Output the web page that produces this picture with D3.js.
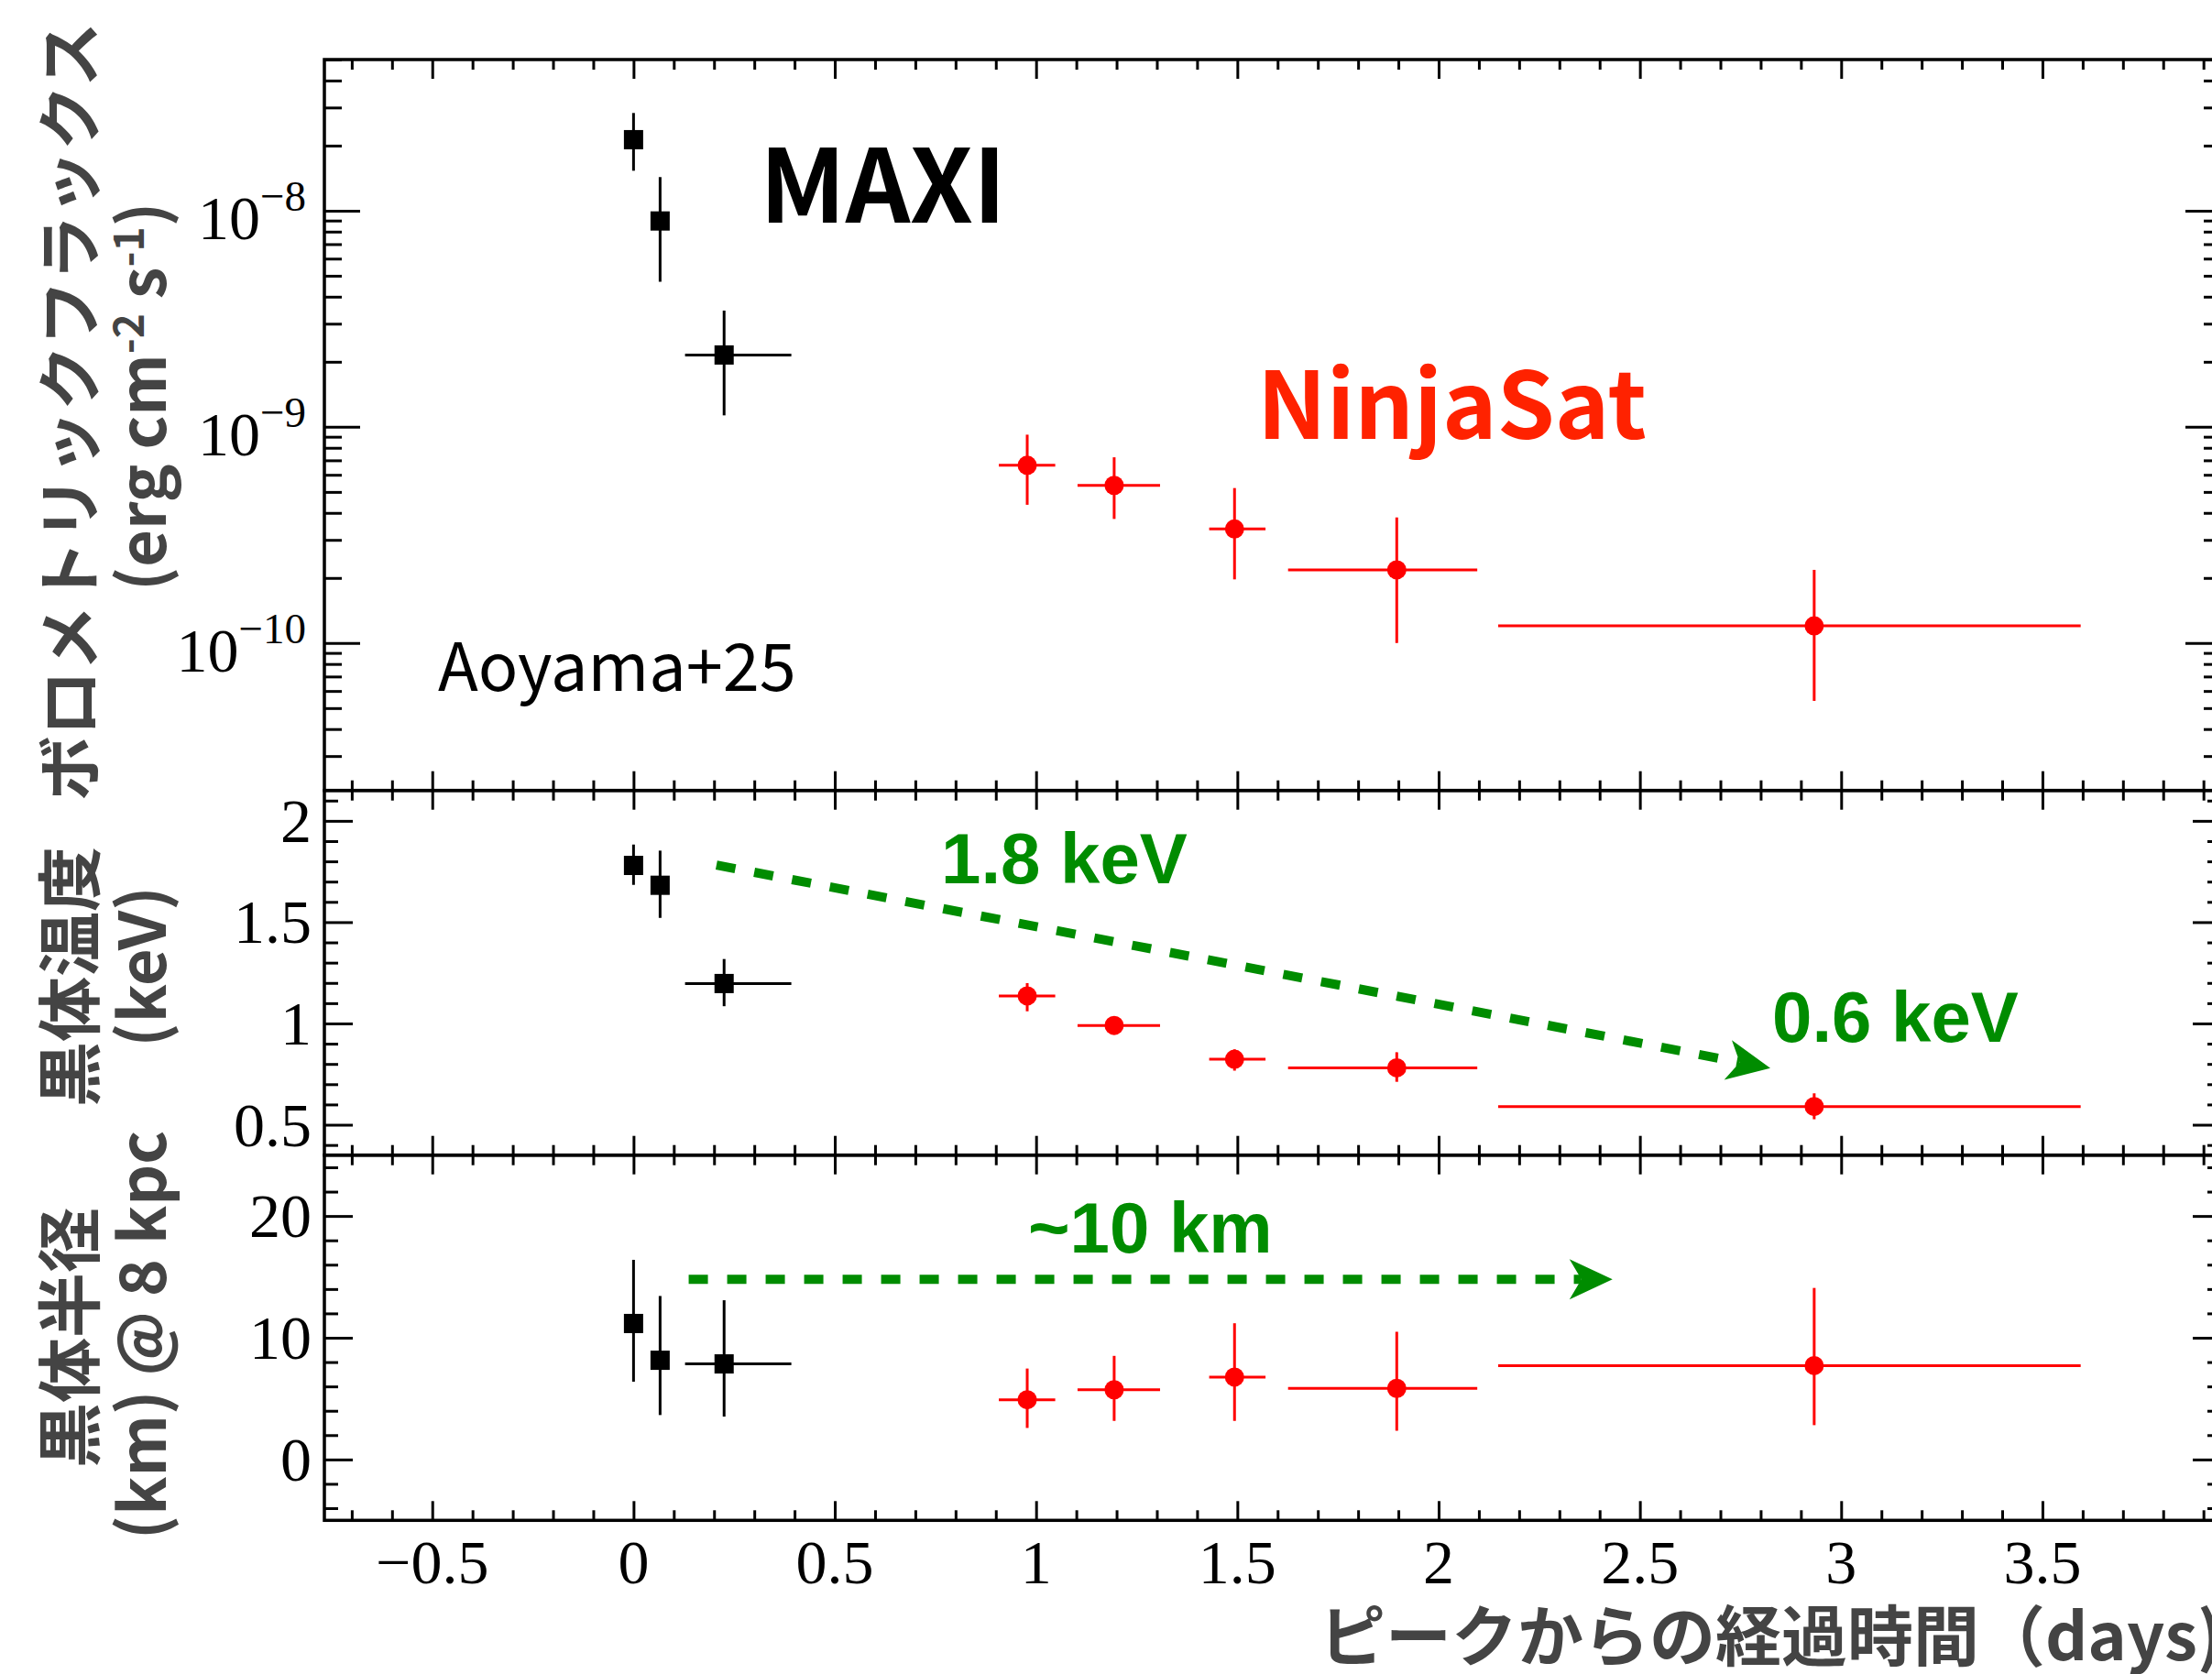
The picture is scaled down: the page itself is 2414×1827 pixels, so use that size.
<!DOCTYPE html>
<html>
<head>
<meta charset="utf-8">
<script src="https://cdn.jsdelivr.net/npm/d3@7"></script>
<style>
  body { margin: 0; background: #fff; }
  svg { display: block; }
</style>
</head>
<body>
<div id="chart"></div>
<script>
// MAXI points (black squares)
const maxiTime   = [0, 0.066, 0.225];
const maxiTimeLo = [0, 0.066, 0.128];
const maxiTimeHi = [0, 0.066, 0.392];
const maxiFlux   = [2.13e-8, 8.96e-9, 2.15e-9];
const maxiFluxLo = [1.53e-8, 4.69e-9, 1.13e-9];
const maxiFluxHi = [2.83e-8, 1.43e-8, 3.45e-9];
const maxiKT     = [1.78, 1.682, 1.197];
const maxiKTLo   = [1.684, 1.521, 1.085];
const maxiKTHi   = [1.883, 1.853, 1.318];
const maxiRad    = [11.17, 8.15, 7.85];
const maxiRadLo  = [6.39, 3.65, 3.52];
const maxiRadHi  = [16.4, 13.43, 13.08];

// NinjaSat points (red circles)
const ninjaTime   = [0.978, 1.194, 1.493, 1.896, 2.933];
const ninjaTimeLo = [0.9075, 1.103, 1.43, 1.626, 2.148];
const ninjaTimeHi = [1.0476, 1.308, 1.57, 2.096, 3.595];
const ninjaFlux   = [6.64e-10, 5.36e-10, 3.37e-10, 2.18e-10, 1.2e-10];
const ninjaFluxLo = [4.36e-10, 3.75e-10, 1.97e-10, 1.0e-10, 5.4e-11];
const ninjaFluxHi = [9.2e-10, 7.23e-10, 5.21e-10, 3.81e-10, 2.18e-10];
const ninjaKT     = [1.136, 0.99, 0.823, 0.781, 0.59];
const ninjaKTLo   = [1.06, 0.948, 0.767, 0.712, 0.527];
const ninjaKTHi   = [1.199, 1.032, 0.872, 0.858, 0.655];
const ninjaRad    = [4.91, 5.73, 6.77, 5.84, 7.71];
const ninjaRadLo  = [2.59, 3.17, 3.17, 2.36, 2.82];
const ninjaRadHi  = [7.47, 8.51, 11.19, 10.49, 14.09];

// trend arrows [x0, y0, x1, y1]
const ktArrow  = [0.206, 1.782, 2.824, 0.779];
const radArrow = [0.137, 14.8, 2.432, 14.8];

// tick values
const xMajor = [-0.5, 0, 0.5, 1, 1.5, 2, 2.5, 3, 3.5];
const xLabels = ['−0.5', '0', '0.5', '1', '1.5', '2', '2.5', '3', '3.5'];
const fluxMajor = [1e-10, 1e-9, 1e-8];
const fluxExp = ['−10', '−9', '−8'];
const ktMajor = [0.5, 1, 1.5, 2];
const ktLabels = ['0.5', '1', '1.5', '2'];
const radMajor = [0, 10, 20];
const radLabels = ['0', '10', '20'];

const W = 2414, H = 1827;
const L = 354, R = 2424;
const red = '#ff0000', green = '#008c00', gray = '#444444';
const serif = '"Liberation Serif", "Times New Roman", serif';
const jp = '"Noto Sans CJK JP", "Noto Sans", sans-serif';
const arial = '"Liberation Sans", Arial, sans-serif';

const x = d3.scaleLinear().domain([-0.768, 3.944]).range([L, R]);
const yFlux = d3.scaleLog().domain([2.08e-11, 5e-8]).range([862.7, 65]);
const yKT = d3.scaleLinear().domain([0.35, 2.15]).range([1260.7, 862.7]);
const yRad = d3.scaleLinear().domain([-5, 25]).range([1659.3, 1260.7]);

const svg = d3.select('#chart').append('svg')
    .attr('width', W)
    .attr('height', H)
    .attr('viewBox', `0 0 ${W} ${H}`);

svg.append('rect').attr('width', W).attr('height', H).attr('fill', '#fff');

const xMinor = d3.range(-7, 40).map(d => d / 10).filter(d => !xMajor.some(m => Math.abs(m - d) < 1e-9));

function ticks(axis, vals, len, tx, ty) {
  const g = svg.append('g')
      .attr('transform', `translate(${tx},${ty})`)
      .call(axis.tickValues(vals).tickSizeInner(-len).tickSizeOuter(0).tickFormat(''));
  g.select('.domain').remove();
  g.selectAll('line').attr('stroke', '#000').attr('stroke-width', 3);
}

function panel(y, major, minor, majLen, minLen) {
  const [y0, y1] = y.range();
  ticks(d3.axisLeft(y), major, majLen, L, 0);
  ticks(d3.axisLeft(y), minor, minLen, L, 0);
  ticks(d3.axisRight(y), major, majLen, R, 0);
  ticks(d3.axisRight(y), minor, minLen, R, 0);
  ticks(d3.axisBottom(x), xMajor, 21, 0, y0);
  ticks(d3.axisBottom(x), xMinor, 11, 0, y0);
  ticks(d3.axisTop(x), xMajor, 21, 0, y1);
  ticks(d3.axisTop(x), xMinor, 11, 0, y1);
  svg.append('rect')
      .attr('x', L).attr('y', y1)
      .attr('width', R - L).attr('height', y0 - y1)
      .attr('fill', 'none').attr('stroke', '#000').attr('stroke-width', 3.5);
}

const fluxMinor = yFlux.ticks().filter(d => !fluxMajor.includes(d));
panel(yFlux, fluxMajor, fluxMinor, 39, 19);
panel(yKT, ktMajor, d3.range(4, 22).map(d => d / 10).filter(d => !ktMajor.includes(d)), 31, 15);
panel(yRad, radMajor, d3.range(-4, 26, 2).filter(d => !radMajor.includes(d)), 31, 15);

// tick labels
svg.append('g').selectAll('text').data(xMajor).join('text')
    .attr('x', d => x(d)).attr('y', 1728)
    .attr('text-anchor', 'middle')
    .attr('font-family', serif).attr('font-size', 68)
    .text((d, i) => xLabels[i]);

const fluxText = svg.append('g').selectAll('text').data(fluxMajor).join('text')
    .attr('x', 334).attr('y', d => yFlux(d) + 31)
    .attr('text-anchor', 'end')
    .attr('font-family', serif).attr('font-size', 68);
fluxText.append('tspan').text('10');
fluxText.append('tspan').attr('dy', -31).attr('font-size', 47).text((d, i) => fluxExp[i]);

svg.append('g').selectAll('text').data(ktMajor).join('text')
    .attr('x', 340).attr('y', d => yKT(d) + 23)
    .attr('text-anchor', 'end')
    .attr('font-family', serif).attr('font-size', 68)
    .text((d, i) => ktLabels[i]);

svg.append('g').selectAll('text').data(radMajor).join('text')
    .attr('x', 340).attr('y', d => yRad(d) + 23)
    .attr('text-anchor', 'end')
    .attr('font-family', serif).attr('font-size', 68)
    .text((d, i) => radLabels[i]);

// data points with error bars
function series(y, t, tLo, tHi, v, vLo, vHi, color, shape) {
  const g = svg.append('g');
  const rows = t.map((d, i) => ({t: d, tLo: tLo[i], tHi: tHi[i], v: v[i], vLo: vLo[i], vHi: vHi[i]}));
  g.selectAll('.ey').data(rows).join('line')
      .attr('x1', d => x(d.t)).attr('x2', d => x(d.t))
      .attr('y1', d => y(d.vLo)).attr('y2', d => y(d.vHi))
      .attr('stroke', color).attr('stroke-width', 3);
  g.selectAll('.ex').data(rows.filter(d => d.tHi > d.tLo)).join('line')
      .attr('x1', d => x(d.tLo)).attr('x2', d => x(d.tHi))
      .attr('y1', d => y(d.v)).attr('y2', d => y(d.v))
      .attr('stroke', color).attr('stroke-width', 3);
  if (shape === 'square') {
    g.selectAll('rect').data(rows).join('rect')
        .attr('x', d => x(d.t) - 10.5).attr('y', d => y(d.v) - 10.5)
        .attr('width', 21).attr('height', 21).attr('fill', color);
  } else {
    g.selectAll('circle').data(rows).join('circle')
        .attr('cx', d => x(d.t)).attr('cy', d => y(d.v))
        .attr('r', 10.5).attr('fill', color);
  }
}

series(yFlux, maxiTime, maxiTimeLo, maxiTimeHi, maxiFlux, maxiFluxLo, maxiFluxHi, '#000', 'square');
series(yKT, maxiTime, maxiTimeLo, maxiTimeHi, maxiKT, maxiKTLo, maxiKTHi, '#000', 'square');
series(yRad, maxiTime, maxiTimeLo, maxiTimeHi, maxiRad, maxiRadLo, maxiRadHi, '#000', 'square');
series(yFlux, ninjaTime, ninjaTimeLo, ninjaTimeHi, ninjaFlux, ninjaFluxLo, ninjaFluxHi, red, 'circle');
series(yKT, ninjaTime, ninjaTimeLo, ninjaTimeHi, ninjaKT, ninjaKTLo, ninjaKTHi, red, 'circle');
series(yRad, ninjaTime, ninjaTimeLo, ninjaTimeHi, ninjaRad, ninjaRadLo, ninjaRadHi, red, 'circle');

// dashed green arrows
function arrow(y, a) {
  const x0 = x(a[0]), y0 = y(a[1]), x1 = x(a[2]), y1 = y(a[3]);
  const ang = Math.atan2(y1 - y0, x1 - x0);
  const c = Math.cos(ang), s = Math.sin(ang);
  const pt = (u, v) => [x1 + u * c - v * s, y1 + u * s + v * c];
  const notch = pt(-34, 0);
  svg.append('line')
      .attr('x1', x0).attr('y1', y0).attr('x2', notch[0]).attr('y2', notch[1])
      .attr('stroke', green).attr('stroke-width', 10)
      .attr('stroke-dasharray', '21 21');
  svg.append('path')
      .attr('d', 'M' + [pt(0, 0), pt(-47, 22), notch, pt(-47, -22)].map(p => p.join(',')).join('L') + 'Z')
      .attr('fill', green);
}
arrow(yKT, ktArrow);
arrow(yRad, radArrow);

// annotations
svg.append('text').attr('x', 829).attr('y', 243)
    .attr('font-family', jp).attr('font-weight', 700).attr('font-size', 110)
    .text('MAXI');
svg.append('text').attr('x', 1372).attr('y', 479)
    .attr('font-family', jp).attr('font-weight', 700).attr('font-size', 101)
    .attr('fill', '#ff2200')
    .text('NinjaSat');
svg.append('text').attr('x', 478).attr('y', 754)
    .attr('font-family', jp).attr('font-size', 72)
    .text('Aoyama+25');

const greenNotes = [['1.8 keV', 1027, 964], ['0.6 keV', 1934, 1137], ['~10 km', 1122, 1367]];
greenNotes.forEach(([t, px, py]) => {
  svg.append('text').attr('x', px).attr('y', py)
      .attr('font-family', arial).attr('font-weight', 700).attr('font-size', 78)
      .attr('fill', green).text(t);
});

// axis titles
function ylab(px, py, size) {
  return svg.append('text')
      .attr('transform', `translate(${px},${py}) rotate(-90)`)
      .attr('text-anchor', 'middle')
      .attr('font-family', jp).attr('font-weight', 700).attr('font-size', size)
      .attr('fill', gray);
}
ylab(102, 449, 71).text('ボロメトリックフラックス');
const u = ylab(181, 433, 70);
u.append('tspan').text('(erg cm');
u.append('tspan').attr('dy', -24).attr('font-size', 46).text('-2');
u.append('tspan').attr('dy', 24).text(' s');
u.append('tspan').attr('dy', -24).attr('font-size', 46).text('-1');
u.append('tspan').attr('dy', 24).text(')');
ylab(102, 1066, 71).text('黒体温度');
ylab(181, 1055, 70).text('(keV)');
ylab(102, 1460, 71).text('黒体半径');
ylab(181, 1457, 70).text('(km) @ 8 kpc');

svg.append('text').attr('x', 1440).attr('y', 1812)
    .attr('font-family', jp).attr('font-weight', 700).attr('font-size', 72)
    .attr('fill', gray)
    .text('ピークからの経過時間（days)');
</script>
</body>
</html>
